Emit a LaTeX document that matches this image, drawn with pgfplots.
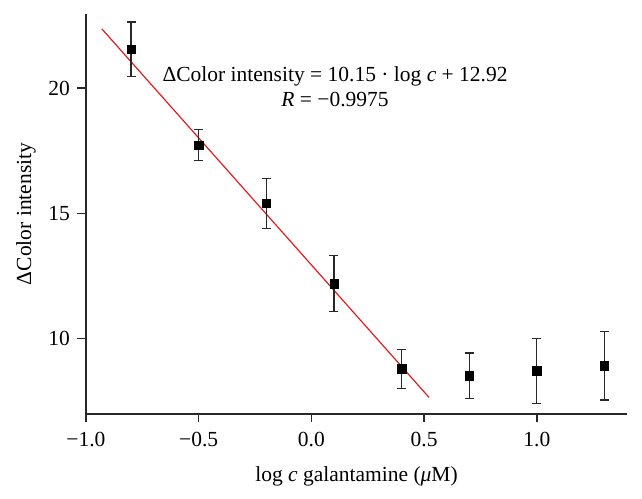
\documentclass[border=0pt]{standalone}
\usepackage{pgfplots}
\pgfplotsset{compat=1.18}
\usepackage{fontspec}
\setmainfont{Liberation Serif}
\usetikzlibrary{calc}
\definecolor{axgray}{RGB}{40,40,40}
\definecolor{fitred}{RGB}{225,30,30}
\begin{document}
\begin{tikzpicture}
\pgfplotstableread{
x y e
-0.8 21.55 1.08
-0.5 17.72 0.62
-0.2 15.40 1.00
0.1 12.20 1.12
0.4 8.80 0.78
0.7 8.53 0.90
1.0 8.72 1.30
1.3 8.92 1.36
}\datatable
\begin{axis}[
  name=ax,
  scale only axis,
  width=541pt, height=400pt,
  xmin=-1.0, xmax=1.40,
  ymin=7.0, ymax=22.95,
  axis x line=bottom, axis y line=left,
  axis line style={-, line width=1.4pt, axgray},
  every tick/.style={line width=1.4pt, axgray},
  tick align=outside,
  major tick length=8.5pt,
  xtick={-1,-0.5,0,0.5,1},
  xticklabels={−1.0,−0.5,0.0,0.5,1.0},
  ytick={10,15,20},
  yticklabels={10,15,20},
  tick label style={font=\fontsize{21.5}{24}\selectfont, black},
  xticklabel style={yshift=-6pt},
  yticklabel style={xshift=-4pt},
  label style={font=\fontsize{21.5}{24}\selectfont, black},
  xlabel={log \textit{c} galantamine (\textit{μ}M)},
  ylabel={ΔColor intensity},
  xlabel style={at={(axis description cs:0.5,0)}, anchor=base, yshift=-68pt},
  ylabel style={at={(axis description cs:0,0.5)}, anchor=center, yshift=60pt},
  clip=false,
]
\addplot[fitred, line width=1.2pt] coordinates {(-0.93,22.36) (0.522,7.66)};
\addplot[only marks, mark=square*, mark size=4.2pt, black,
  error bars/.cd, y dir=both, y explicit,
  error bar style={line width=1.3pt, axgray},
  error mark options={line width=1.3pt, axgray, mark size=4.5pt, rotate=90}]
  table[x=x, y=y, y error=e] {\datatable};
\node[align=center, font=\fontsize{21.5}{25}\selectfont, anchor=center] at (axis cs:0.105,20.06)
  {ΔColor intensity = 10.15 · log \textit{c} + 12.92\\ \textit{R} = −0.9975};
\end{axis}
\path ($(ax.south west)+(-86pt,-85pt)$) rectangle ($(ax.north east)+(15pt,14pt)$);
\end{tikzpicture}
\end{document}
